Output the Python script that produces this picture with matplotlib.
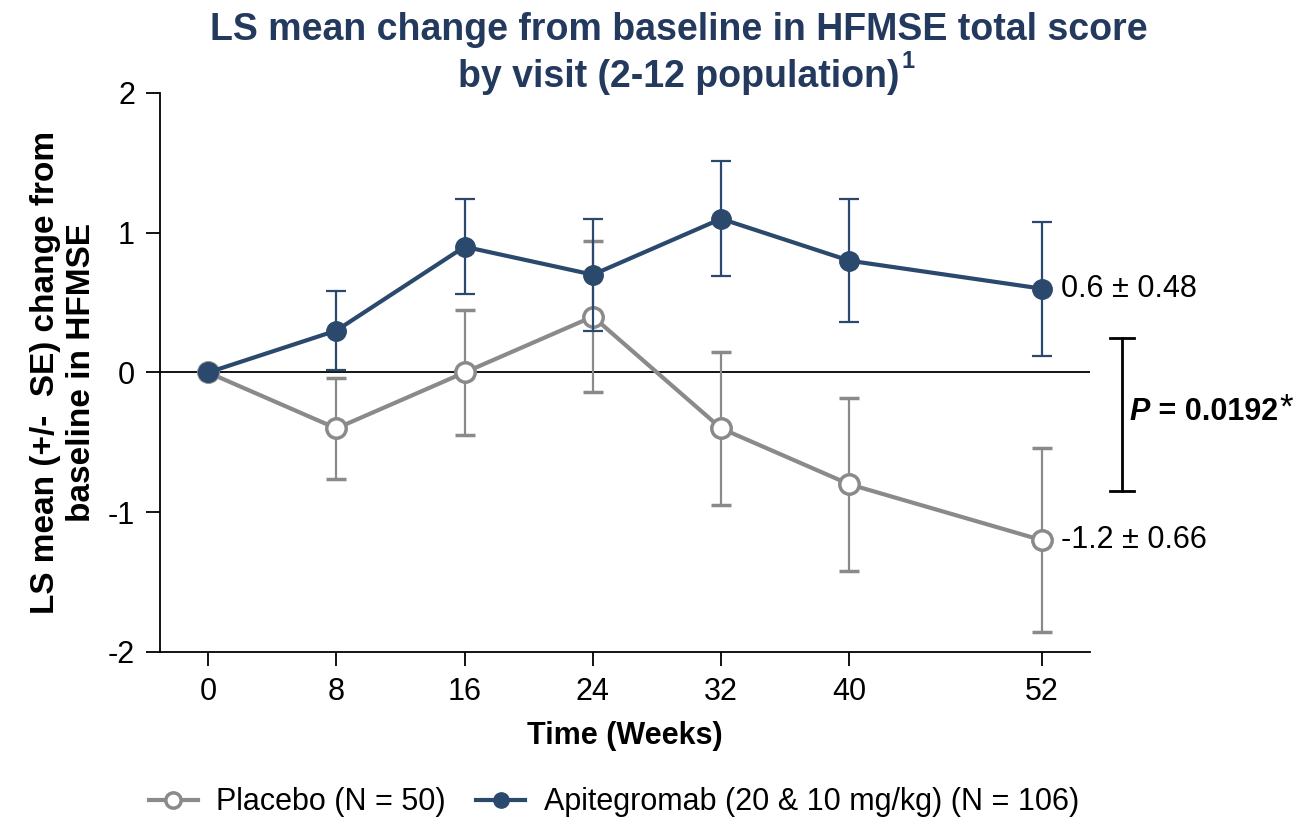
import numpy as np
import matplotlib.pyplot as plt
from matplotlib.lines import Line2D

plt.rcParams['font.family'] = ['Liberation Sans', 'DejaVu Sans']
plt.rcParams['axes.unicode_minus'] = False

weeks = [0, 8, 16, 24, 32, 40, 52]

placebo_mean = [0.0, -0.4, 0.0, 0.4, -0.4, -0.8, -1.2]
placebo_se = [0.0, 0.36, 0.45, 0.54, 0.55, 0.62, 0.66]

apit_mean = [0.0, 0.3, 0.9, 0.7, 1.1, 0.8, 0.6]
apit_se = [0.0, 0.28, 0.34, 0.40, 0.41, 0.44, 0.48]

placebo_label = "Placebo (N = 50)"
apit_label = "Apitegromab (20 & 10 mg/kg) (N = 106)"

# span of the significance bracket (y data units)
bracket_top = 0.25
bracket_bottom = -0.85
p_value = "0.0192"

navy = "#2B486D"
grey = "#8A8A8A"
title_col = "#23395E"

fig = plt.figure(figsize=(13.06, 8.23), dpi=100)
ax = fig.add_axes([0.1225, 0.2078, 0.712, 0.6792])

ax.axhline(0, color="black", lw=1.3, zorder=1)

ax.errorbar(weeks, placebo_mean, yerr=placebo_se, color=grey, lw=3,
            elinewidth=1.6, capsize=7, capthick=1.6, marker="o", ms=14,
            mfc="white", mec=grey, mew=2.5, zorder=3)
ax.errorbar(weeks, apit_mean, yerr=apit_se, color=navy, lw=3,
            elinewidth=1.6, capsize=7, capthick=1.6, marker="o", ms=14,
            mfc=navy, mec=navy, zorder=4)

# end-point labels
ax.text(weeks[-1] + 1.2, apit_mean[-1],
        f"{apit_mean[-1]} \u00b1 {apit_se[-1]}", fontsize=22, va="center")
ax.text(weeks[-1] + 1.2, placebo_mean[-1],
        f"{placebo_mean[-1]} \u00b1 {placebo_se[-1]}", fontsize=22, va="center")

# significance bracket outside the plotting area
bx = 57.0
ax.plot([bx, bx], [bracket_bottom, bracket_top], color="black", lw=2,
        clip_on=False)
for yb in (bracket_top, bracket_bottom):
    ax.plot([bx - 0.75, bx + 0.75], [yb, yb], color="black", lw=2,
            clip_on=False)
ymid = (bracket_top + bracket_bottom) / 2 + 0.02
t1 = ax.text(bx + 0.45, ymid, "P", fontsize=22, fontweight="bold",
             fontstyle="italic", va="center", ha="left")
t2 = ax.annotate(f" = {p_value}", xy=(1, 0.5), xycoords=t1, fontsize=22,
                 fontweight="bold", va="center", ha="left")
ax.annotate("*", xy=(1, 0.62), xycoords=t2, fontsize=25, va="center",
            ha="left", xytext=(1, 0), textcoords="offset points")

ax.set_xlim(-3, 55)
ax.set_ylim(-2, 2)
ax.set_xticks(weeks)
ax.set_yticks([-2, -1, 0, 1, 2])
ax.tick_params(labelsize=22, length=10, width=1.3, direction="out", pad=8)
for s in ("top", "right"):
    ax.spines[s].set_visible(False)
for s in ("left", "bottom"):
    ax.spines[s].set_linewidth(1.3)

ax.set_xlabel("Time (Weeks)", fontsize=22, fontweight="bold", labelpad=10)
ax.set_ylabel("LS mean (+/-  SE) change from\nbaseline in HFMSE",
              fontsize=24, fontweight="bold", labelpad=8)

fig.text(0.52, 0.985, "LS mean change from baseline in HFMSE total score",
         fontsize=27, fontweight="bold", color=title_col, ha="center",
         va="top")
t3 = fig.text(0.52, 0.928, "by visit (2-12 population)",
              fontsize=27, fontweight="bold", color=title_col, ha="center",
              va="top")
ax.annotate("1", xy=(1, 0.95), xycoords=t3, fontsize=17, fontweight="bold",
            color=title_col, va="center", ha="left",
            xytext=(1, 0), textcoords="offset points")

handles = [
    Line2D([], [], color=grey, lw=3, marker="o", ms=11, mfc="white",
           mec=grey, mew=2.5),
    Line2D([], [], color=navy, lw=3, marker="o", ms=11, mfc=navy, mec=navy),
]
fig.legend(handles, [placebo_label, apit_label], loc="center",
           bbox_to_anchor=(0.47, 0.025), ncol=2, frameon=False, fontsize=22,
           handlelength=1.6, columnspacing=1.0, handletextpad=0.6)

fig.savefig("out.png", dpi=100)
